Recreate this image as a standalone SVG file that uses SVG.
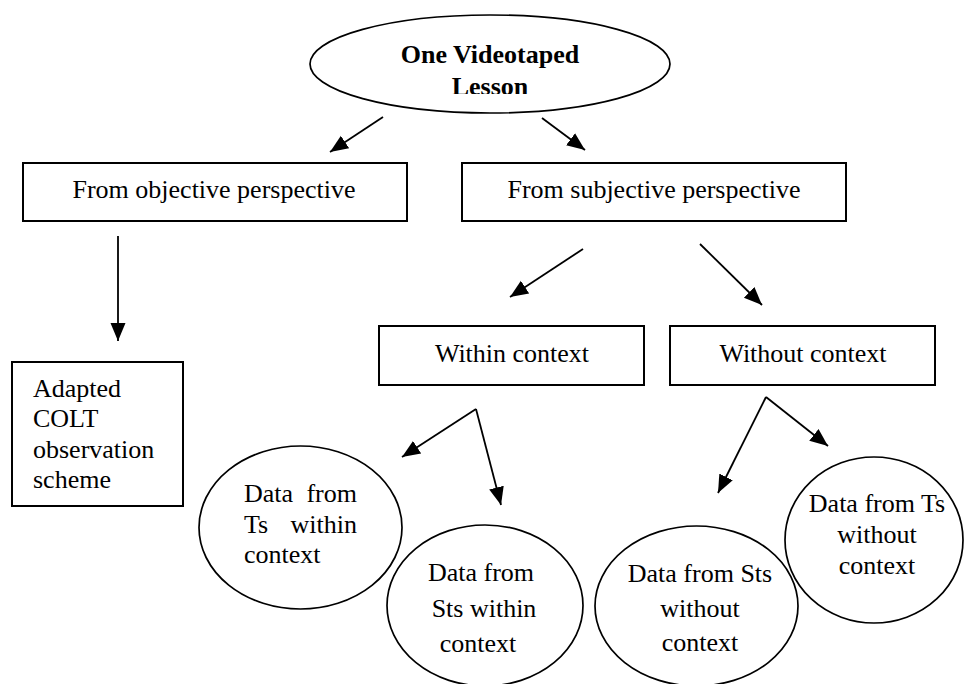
<svg xmlns="http://www.w3.org/2000/svg" width="965" height="684" viewBox="0 0 965 684">
<style>
  .box { fill: #ffffff; stroke: #000000; stroke-width: 2; }
  .ell { fill: #ffffff; stroke: #000000; stroke-width: 1.7; }
  .t { font-family: "Liberation Serif", "Times New Roman", serif; font-size: 26px; fill: #000000; }
  .tb { font-family: "Liberation Serif", "Times New Roman", serif; font-size: 26px; font-weight: bold; fill: #000000; }
  .c { text-anchor: middle; }
  .conn line { stroke: #000000; stroke-width: 1.8; marker-end: url(#arr); }
</style>
<defs>
  <marker id="arr" markerUnits="userSpaceOnUse" markerWidth="20" markerHeight="18" refX="18" refY="9" orient="auto">
    <path d="M0,1.5 L18,9 L0,16.5 z" fill="#000000"/>
  </marker>
  <clipPath id="clipTop">
    <rect x="300" y="10" width="380" height="84"/>
  </clipPath>
</defs>
<rect x="0" y="0" width="965" height="684" fill="#ffffff"/>

<g id="lesson">
  <ellipse class="ell" cx="490" cy="64" rx="180" ry="49"/>
  <g clip-path="url(#clipTop)">
    <text class="tb c" x="490" y="63">One Videotaped</text>
    <text class="tb c" x="490" y="95">Lesson</text>
  </g>
</g>

<g id="objective">
  <rect class="box" x="23" y="163" width="384" height="58"/>
  <text class="t c" x="214" y="198">From objective perspective</text>
</g>

<g id="subjective">
  <rect class="box" x="462" y="163" width="384" height="58"/>
  <text class="t c" x="654" y="198">From subjective perspective</text>
</g>

<g id="colt">
  <rect class="box" x="12" y="362" width="171" height="144"/>
  <text class="t" x="33" y="397">Adapted</text>
  <text class="t" x="33" y="427">COLT</text>
  <text class="t" x="33" y="458">observation</text>
  <text class="t" x="33" y="488">scheme</text>
</g>

<g id="within">
  <rect class="box" x="379" y="326" width="265" height="59"/>
  <text class="t c" x="512" y="362">Within context</text>
</g>

<g id="without">
  <rect class="box" x="670" y="326" width="265" height="59"/>
  <text class="t c" x="803" y="362">Without context</text>
</g>

<g id="ts-within">
  <ellipse class="ell" cx="300.5" cy="527.5" rx="101.5" ry="81.5"/>
  <text class="t" x="244" y="502">Data</text>
  <text class="t" x="357" y="502" text-anchor="end">from</text>
  <text class="t" x="244" y="533">Ts</text>
  <text class="t" x="357" y="533" text-anchor="end">within</text>
  <text class="t" x="244" y="563">context</text>
</g>

<g id="sts-within">
  <ellipse class="ell" cx="485" cy="605.5" rx="98" ry="80.5"/>
  <text class="t c" x="481" y="581">Data from</text>
  <text class="t c" x="484" y="617">Sts within</text>
  <text class="t c" x="478" y="652">context</text>
</g>

<g id="sts-without">
  <ellipse class="ell" cx="696.5" cy="606" rx="101.5" ry="80"/>
  <text class="t c" x="700" y="582">Data from Sts</text>
  <text class="t c" x="700" y="617">without</text>
  <text class="t c" x="700" y="651">context</text>
</g>

<g id="ts-without">
  <ellipse class="ell" cx="874" cy="540" rx="89" ry="83"/>
  <text class="t c" x="877" y="512">Data from Ts</text>
  <text class="t c" x="877" y="543">without</text>
  <text class="t c" x="877" y="574">context</text>
</g>

<g id="connectors" class="conn">
  <line x1="383" y1="117" x2="330" y2="152"/>
  <line x1="542" y1="118" x2="585" y2="150"/>
  <line x1="118" y1="236" x2="118" y2="341"/>
  <line x1="583" y1="249" x2="510" y2="297"/>
  <line x1="700" y1="244" x2="762" y2="305"/>
  <line x1="476" y1="409" x2="402" y2="457"/>
  <line x1="476" y1="409" x2="501" y2="505"/>
  <line x1="766" y1="397" x2="718" y2="493"/>
  <line x1="766" y1="397" x2="828" y2="446"/>
</g>
</svg>
